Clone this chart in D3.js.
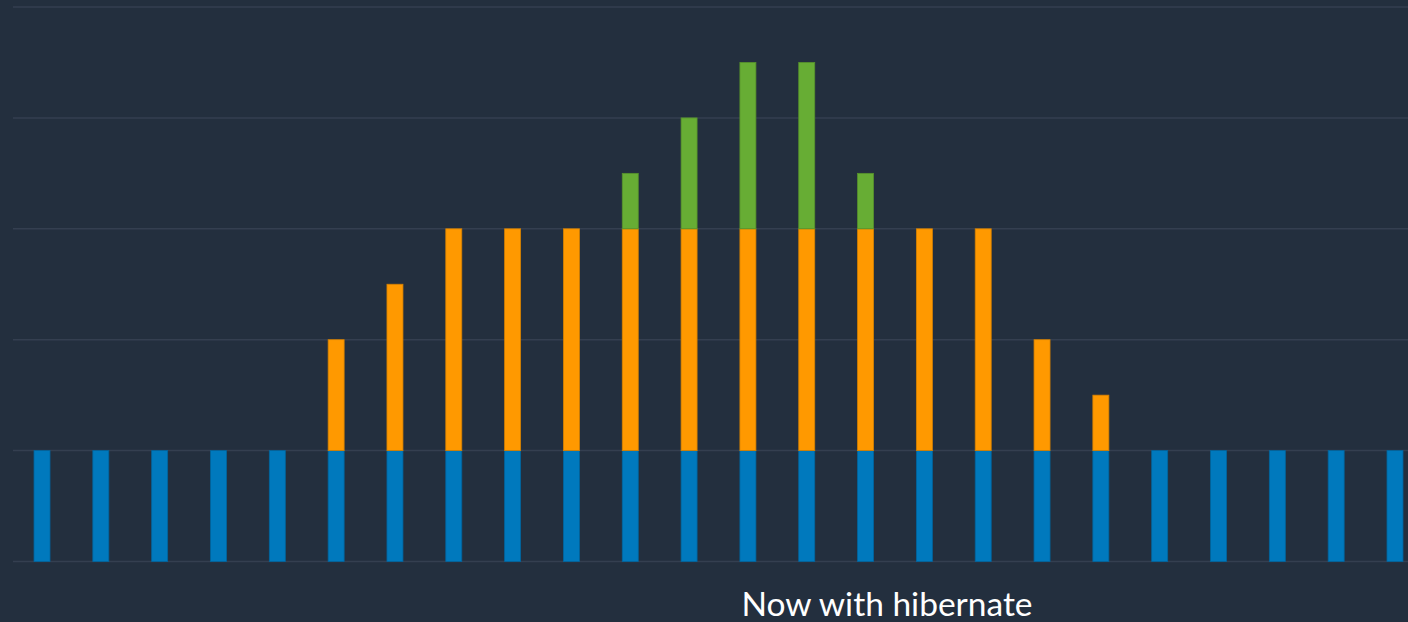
<!DOCTYPE html>
<html lang="en">
    <head>
        <meta charset="UTF-8" />
        <title>Now with hibernate</title>
        <style>
            html, body { margin: 0; padding: 0; background: #232f3e; }
            svg { display: block; }
            .grid line { stroke: #343f50; stroke-width: 1.5px; }
            .caption { fill: #ffffff; font-family: Lato, 'Open Sans', sans-serif; font-size: 33.5px; }
        </style>
    </head>
    <body>
        <svg width="1408" height="622"></svg>
        <script src="https://d3js.org/d3.v7.min.js"></script>
        <script>
            const hours = d3.range(24).map((h) => String(h));
            const baseValues = [1, 1, 1, 1, 1, 1, 1, 1, 1, 1, 1, 1, 1, 1, 1, 1, 1, 1, 1, 1, 1, 1, 1, 1];
            const scaleValues = [0, 0, 0, 0, 0, 1, 1.5, 2, 2, 2, 2, 2, 2, 2, 2, 2, 2, 1, 0.5, 0, 0, 0, 0, 0];
            const burstValues = [0, 0, 0, 0, 0, 0, 0, 0, 0, 0, 0.5, 1, 1.5, 1.5, 0.5, 0, 0, 0, 0, 0, 0, 0, 0, 0];
            const gridTicks = [0, 1, 2, 3, 4, 5];
            const seriesKeys = ['base', 'scale', 'burst'];
            const colors = { base: '#0079bd', scale: '#ff9900', burst: '#67ad34' };

            const svg = d3.select('svg'),
                width = +svg.attr('width'),
                height = +svg.attr('height');

            const rows = hours.map((h, i) => ({ hour: h, base: baseValues[i], scale: scaleValues[i], burst: burstValues[i] }));

            const x = d3.scaleBand().domain(hours).range([12.6, 1424.4]).paddingInner(0.728).paddingOuter(0.364);
            const y = d3.scaleLinear().domain([0, 5]).range([561.5, 7]);

            svg.append('g')
                .attr('class', 'grid')
                .selectAll('line')
                .data(gridTicks)
                .enter()
                .append('line')
                .attr('x1', 13)
                .attr('x2', width)
                .attr('y1', (d) => y(d))
                .attr('y2', (d) => y(d));

            const stacked = d3.stack().keys(seriesKeys)(rows);

            svg.append('g')
                .selectAll('g')
                .data(stacked)
                .enter()
                .append('g')
                .attr('fill', (s) => colors[s.key])
                .attr('stroke', (s) => d3.color(colors[s.key]).darker(0.5))
                .attr('stroke-width', 0.8)
                .selectAll('rect')
                .data((s) => s.filter((d) => d[1] - d[0] > 0))
                .enter()
                .append('rect')
                .attr('x', (d) => x(d.data.hour))
                .attr('width', x.bandwidth())
                .attr('y', (d) => y(d[1]))
                .attr('height', (d) => y(d[0]) - y(d[1]));

            svg.append('text')
                .attr('class', 'caption')
                .attr('x', 887)
                .attr('y', 616)
                .attr('text-anchor', 'middle')
                .text('Now with hibernate');
        </script>
    </body>
</html>
